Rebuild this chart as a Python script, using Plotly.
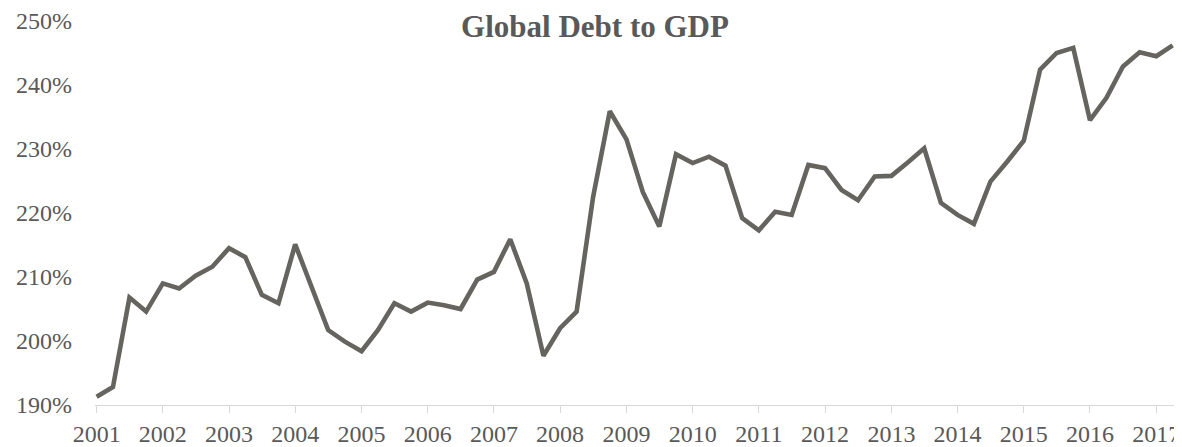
import pandas as pd
import plotly.graph_objects as go

# Quarterly global debt to GDP (%), 2001Q1 - 2017Q2
debt_to_gdp = [
    191.3, 192.8, 206.8, 204.6, 209.0, 208.2, 210.2, 211.6,
    214.5, 213.1, 207.2, 205.9, 215.1, 208.3, 201.7, 199.9,
    198.4, 201.7, 205.9, 204.6, 206.0, 205.6, 205.0, 209.6,
    210.8, 215.9, 209.0, 197.7, 202.0, 204.6, 222.5, 235.9,
    231.5, 223.3, 217.9, 229.2, 227.8, 228.8, 227.4, 219.2,
    217.3, 220.2, 219.7, 227.5, 227.0, 223.6, 222.0, 225.7,
    225.8, 227.9, 230.1, 221.6, 219.7, 218.3, 224.9, 228.0,
    231.3, 242.4, 245.0, 245.8, 234.5, 238.0, 242.9, 245.1,
    244.5, 246.2,
]
first_quarter = "2001Q1"
year_ticks = list(range(2001, 2018))
year_labels = [str(y) for y in year_ticks]
y_ticks = [190, 200, 210, 220, 230, 240, 250]
y_labels = [f"{v}%" for v in y_ticks]
title_text = "Global Debt to GDP"

quarters = pd.period_range(first_quarter, periods=len(debt_to_gdp), freq="Q")
x_dates = quarters.to_timestamp(how="start")
tick_dates = [pd.Timestamp(year=y, month=1, day=1) for y in year_ticks]

text_color = "#595959"
font_family = "Liberation Serif, Times New Roman, serif"

# The page body has an 8px default margin, so the figure is sized to fit.
fig_w, fig_h = 1174, 439

fig = go.Figure()
fig.add_trace(go.Scatter(
    x=x_dates, y=debt_to_gdp, mode="lines",
    line=dict(color="#65645f", width=4.6),
    hoverinfo="skip", showlegend=False,
))

fig.update_layout(
    width=fig_w, height=fig_h,
    margin=dict(l=87, r=7, t=13, b=42, autoexpand=False),
    paper_bgcolor="white", plot_bgcolor="white",
    font=dict(family=font_family, color=text_color, size=24),
    title=dict(
        text=f"<b>{title_text}</b>", x=0.5, xanchor="center",
        y=1 - 18 / fig_h, yanchor="middle", yref="container",
        font=dict(family=font_family, size=31, color=text_color),
    ),
)
fig.update_xaxes(
    type="date", automargin=False,
    range=[pd.Timestamp("2000-12-23"), pd.Timestamp("2017-04-14")],
    tickvals=tick_dates, ticktext=year_labels,
    ticks="outside", ticklen=7, tickcolor="#d9d9d9", tickwidth=1,
    showline=True, linecolor="#d9d9d9", linewidth=1,
    showgrid=False, zeroline=False,
    tickfont=dict(size=24, color=text_color),
)
fig.update_yaxes(
    range=[190, 250], automargin=False,
    tickvals=y_ticks, ticktext=y_labels,
    showgrid=False, zeroline=False, showline=False,
    ticks="", ticklabelstandoff=22,
    tickfont=dict(size=24, color=text_color),
)

fig.write_html("out.html")
